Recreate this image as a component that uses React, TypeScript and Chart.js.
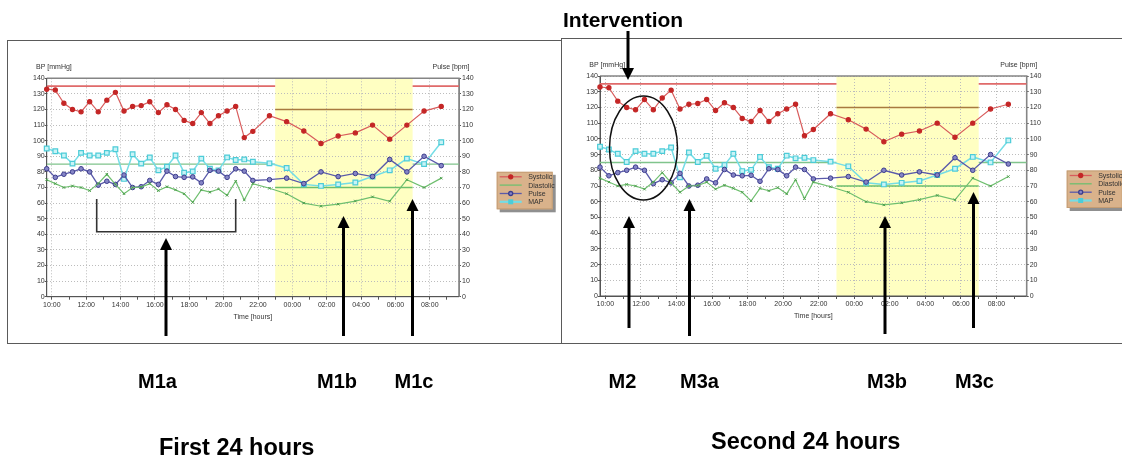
import React, { useEffect, useRef } from "react";
import { Chart, registerables } from "chart.js";

Chart.register(...registerables);

// ---------- data ----------
const readingTimes = [
  "09:42", "10:12", "10:42", "11:12", "11:42", "12:12", "12:42", "13:12", "13:42",
  "14:12", "14:42", "15:12", "15:42", "16:12", "16:42", "17:12", "17:42", "18:12",
  "18:42", "19:12", "19:42", "20:12", "20:42", "21:12", "21:42", "22:40", "23:40",
  "00:40", "01:40", "02:40", "03:40", "04:40", "05:40", "06:40", "07:40", "08:40",
];
const systolic = [
  133, 132.5, 124, 120, 118.5, 125, 118.5, 126, 131, 119, 122, 122.5, 125, 118, 123,
  120, 113, 111, 118, 111, 116, 119, 122, 102, 106, 116, 112.2, 106.2, 98.2, 103, 105,
  110, 101, 110, 119, 122,
];
const diastolic = [
  75, 72.5, 70, 71, 70, 68, 72.5, 78.5, 72, 66, 70, 70.3, 72.5, 68, 70.5, 68.5, 66,
  60.5, 68.5, 67, 69, 65, 74, 62, 72.5, 69.5, 66, 60, 58, 59.3, 61.3, 64, 61.2, 75,
  70, 76,
];
const pulse = [
  82, 76.5, 78.5, 80, 82, 80, 71.5, 74, 72, 78, 70, 70.5, 74.5, 72, 80.5, 77, 76.5,
  76.8, 73, 81, 80.5, 76.5, 82, 80.5, 74.5, 75, 76, 72.5, 80, 77, 79, 77, 88, 80, 90,
  84,
];
const meanArterial = [
  95, 93.2, 90.5, 85.3, 92.2, 90.5, 90.5, 92.2, 94.5, 75.5, 91.3, 85.3, 89.2, 81,
  83.3, 90.5, 79.5, 80.3, 88.5, 82, 81, 89.3, 87.6, 88, 86.5, 85.5, 82.5, 72, 71, 72,
  73.2, 77, 81, 88.5, 85, 99,
];
const seriesLabels = ["Systolic", "Diastolic", "Pulse", "MAP"];
const hourTicks = [10, 11, 12, 13, 14, 15, 16, 17, 18, 19, 20, 21, 22, 23, 24, 25, 26, 27, 28, 29, 30, 31, 32, 33];
const bpTicks = [0, 10, 20, 30, 40, 50, 60, 70, 80, 90, 100, 110, 120, 130, 140];
const axisStartHour = 9.7;
const axisEndHour = 33.7;
const nightStartHour = 23;
const nightEndHour = 31;
const systolicLimits = [135, 120]; // day, night
const diastolicLimits = [85, 70]; // day, night
const axisTitles = ["BP [mmHg]", "Pulse [bpm]", "Time [hours]"];

// ---------- styles ----------
const SMALL_FONT_FAMILY = "'Liberation Sans Narrow','Liberation Sans',Arial,sans-serif";
const SMALL_FONT = { family: SMALL_FONT_FAMILY, size: 7 };
const TEXT_COLOR = "#333333";
const GRID_COLOR = "#bcbcbc";
const AXIS_COLOR = "#555555";
const COLORS = {
  sysLine: "#d85c5c",
  sysPoint: "#c42626",
  diaLine: "#6fbf6f",
  diaPoint: "#4d9e4d",
  pulseLine: "#5a5aaa",
  pulsePoint: "#3c3c8c",
  pulseFill: "#8585c6",
  mapLine: "#74dde6",
  mapPoint: "#4cccd8",
  mapFill: "#c8f3f6",
  sysDayLimit: "#e06a6a",
  sysNightLimit: "#a8793f",
  diaDayLimit: "#80c48c",
  diaNightLimit: "#6cbf6c",
  night: "#ffffc2",
  legendBg: "#d9b28b",
  legendShadow: "#8f8f8f",
};

type Geo = {
  left: number;
  top: number;
  width: number;
  height: number;
  padTop: number;
  padRight: number;
  padBottom: number;
  leftAxisW: number;
  rightAxisW: number;
  legendDx: number;
  legendDy: number;
};

const leftGeo: Geo = {
  left: 8, top: 41, width: 552, height: 301,
  padTop: 37.3, padRight: 83, padBottom: 33.3, leftAxisW: 38.7, rightAxisW: 18,
  legendDx: 37.7, legendDy: 93.5,
};
const rightGeo: Geo = {
  left: 562, top: 39, width: 560, height: 304,
  padTop: 37, padRight: 77.3, padBottom: 35, leftAxisW: 38, rightAxisW: 18,
  legendDx: 40, legendDy: 94.5,
};

const toHour = (s: string) => {
  const [h, m] = s.split(":").map(Number);
  const v = h + m / 60;
  return v < 9 ? v + 24 : v;
};

function BPPanel({ geo }: { geo: Geo }) {
  const ref = useRef<HTMLCanvasElement>(null);

  useEffect(() => {
    const canvas = ref.current;
    if (!canvas) return;
    const hours = readingTimes.map(toHour);
    const pts = (vals: number[]) => vals.map((y, i) => ({ x: hours[i], y }));
    const dayLine = (v: number) => [
      { x: axisStartHour, y: v },
      { x: nightStartHour, y: v },
      { x: (nightStartHour + nightEndHour) / 2, y: null },
      { x: nightEndHour, y: v },
      { x: axisEndHour, y: v },
    ];
    const nightLine = (v: number) => [
      { x: nightStartHour, y: v },
      { x: nightEndHour, y: v },
    ];

    const legendRows = [
      { label: seriesLabels[0], line: COLORS.sysLine, point: COLORS.sysPoint, fill: COLORS.sysPoint, shape: "circle" },
      { label: seriesLabels[1], line: COLORS.diaLine, point: COLORS.diaPoint, fill: COLORS.diaPoint, shape: "none" },
      { label: seriesLabels[2], line: COLORS.pulseLine, point: COLORS.pulsePoint, fill: COLORS.pulseFill, shape: "circle" },
      { label: seriesLabels[3], line: COLORS.mapLine, point: COLORS.mapPoint, fill: COLORS.mapFill, shape: "rect" },
    ];
    const rowOffsets = [5, 13.3, 21.7, 30];

    const decor = {
      id: "decor",
      beforeDraw(chart: any) {
        const { ctx, chartArea: a, scales } = chart;
        const xs = scales.x;
        const x1 = xs.getPixelForValue(nightStartHour);
        const x2 = xs.getPixelForValue(nightEndHour);
        ctx.save();
        ctx.fillStyle = COLORS.night;
        ctx.fillRect(x1, a.top, x2 - x1, a.bottom - a.top);
        ctx.restore();
      },
      beforeDatasetsDraw(chart: any) {
        const { ctx, chartArea: a } = chart;
        ctx.save();
        ctx.strokeStyle = "#858585";
        ctx.lineWidth = 1.6;
        ctx.beginPath();
        ctx.moveTo(a.left, a.top);
        ctx.lineTo(a.right, a.top);
        ctx.lineTo(a.right, a.bottom);
        ctx.stroke();
        ctx.strokeStyle = AXIS_COLOR;
        ctx.lineWidth = 1;
        ctx.beginPath();
        ctx.moveTo(a.left, a.top);
        ctx.lineTo(a.left, a.bottom);
        ctx.lineTo(a.right, a.bottom);
        ctx.stroke();
        ctx.restore();
      },
      afterDraw(chart: any) {
        const { ctx, chartArea: a } = chart;
        ctx.save();
        ctx.font = `7px ${SMALL_FONT_FAMILY}`;
        ctx.fillStyle = TEXT_COLOR;
        ctx.textBaseline = "middle";
        ctx.textAlign = "left";
        ctx.fillText(axisTitles[0], a.left - 10.7, a.top - 11);
        ctx.textAlign = "right";
        ctx.fillText(axisTitles[1], a.right + 10.5, a.top - 11);
        ctx.textAlign = "center";
        ctx.fillText(axisTitles[2], (a.left + a.right) / 2, a.bottom + 20.5);

        // legend
        const lx = a.right + geo.legendDx;
        const ly = a.top + geo.legendDy;
        const lw = 56;
        const lh = 37.5;
        ctx.fillStyle = COLORS.legendShadow;
        ctx.fillRect(lx + 3, ly + 3, lw, lh);
        ctx.fillStyle = COLORS.legendBg;
        ctx.fillRect(lx, ly, lw, lh);
        ctx.strokeStyle = "#c49d74";
        ctx.lineWidth = 1;
        ctx.strokeRect(lx + 0.5, ly + 0.5, lw - 1, lh - 1);
        legendRows.forEach((r, i) => {
          const yy = ly + rowOffsets[i];
          ctx.strokeStyle = r.line;
          ctx.lineWidth = r.shape === "rect" ? 2.2 : 1.3;
          ctx.beginPath();
          ctx.moveTo(lx + 3, yy);
          ctx.lineTo(lx + 25, yy);
          ctx.stroke();
          if (r.shape === "circle") {
            ctx.fillStyle = r.fill;
            ctx.strokeStyle = r.point;
            ctx.beginPath();
            ctx.arc(lx + 14, yy, 2, 0, Math.PI * 2);
            ctx.fill();
            ctx.stroke();
          } else if (r.shape === "rect") {
            ctx.fillStyle = r.point;
            ctx.fillRect(lx + 11.5, yy - 2.5, 5, 5);
          }
          ctx.fillStyle = TEXT_COLOR;
          ctx.textAlign = "left";
          ctx.textBaseline = "middle";
          ctx.fillText(r.label, lx + 31.5, yy + 0.5);
        });
        ctx.restore();
      },
    };

    const chart = new Chart(canvas, {
      type: "line",
      data: {
        datasets: [
          {
            label: seriesLabels[0],
            data: pts(systolic),
            yAxisID: "y",
            borderColor: COLORS.sysLine,
            backgroundColor: COLORS.sysPoint,
            pointBackgroundColor: COLORS.sysPoint,
            pointBorderColor: COLORS.sysPoint,
            pointRadius: 2.1,
            borderWidth: 1.2,
            clip: false,
          },
          {
            label: seriesLabels[1],
            data: pts(diastolic),
            yAxisID: "y",
            borderColor: COLORS.diaLine,
            backgroundColor: COLORS.diaPoint,
            pointBackgroundColor: COLORS.diaPoint,
            pointBorderColor: COLORS.diaPoint,
            pointStyle: "crossRot",
            pointRadius: 1.8,
            pointBorderWidth: 1,
            borderWidth: 1.2,
            clip: false,
          },
          {
            label: seriesLabels[2],
            data: pts(pulse),
            yAxisID: "y2",
            borderColor: COLORS.pulseLine,
            backgroundColor: COLORS.pulseFill,
            pointBackgroundColor: COLORS.pulseFill,
            pointBorderColor: COLORS.pulsePoint,
            pointRadius: 2.3,
            pointBorderWidth: 1,
            borderWidth: 1.3,
            clip: false,
          },
          {
            label: seriesLabels[3],
            data: pts(meanArterial),
            yAxisID: "y",
            borderColor: COLORS.mapLine,
            backgroundColor: COLORS.mapFill,
            pointBackgroundColor: COLORS.mapFill,
            pointBorderColor: COLORS.mapPoint,
            pointStyle: "rect",
            pointRadius: 3.3,
            pointBorderWidth: 1.2,
            borderWidth: 1.5,
            clip: false,
          },
          {
            label: "sysDay",
            data: dayLine(systolicLimits[0]),
            yAxisID: "y",
            borderColor: COLORS.sysDayLimit,
            borderWidth: 1.8,
            pointRadius: 0,
            spanGaps: false,
          },
          {
            label: "sysNight",
            data: nightLine(systolicLimits[1]),
            yAxisID: "y",
            borderColor: COLORS.sysNightLimit,
            borderWidth: 1.6,
            pointRadius: 0,
          },
          {
            label: "diaDay",
            data: dayLine(diastolicLimits[0]),
            yAxisID: "y",
            borderColor: COLORS.diaDayLimit,
            borderWidth: 1.4,
            pointRadius: 0,
            spanGaps: false,
          },
          {
            label: "diaNight",
            data: nightLine(diastolicLimits[1]),
            yAxisID: "y",
            borderColor: COLORS.diaNightLimit,
            borderWidth: 1.4,
            pointRadius: 0,
          },
        ],
      } as any,
      options: {
        animation: false,
        responsive: false,
        maintainAspectRatio: false,
        events: [],
        layout: {
          padding: { left: 0, top: geo.padTop, right: geo.padRight, bottom: geo.padBottom },
        },
        elements: { line: { tension: 0 } },
        plugins: {
          legend: { display: false },
          tooltip: { enabled: false },
          title: { display: false },
        },
        scales: {
          x: {
            type: "linear",
            min: axisStartHour,
            max: axisEndHour,
            afterBuildTicks: (s: any) => {
              s.ticks = hourTicks.map((v) => ({ value: v }));
            },
            afterFit: (s: any) => {
              s.height = 12;
            },
            ticks: {
              autoSkip: false,
              maxRotation: 0,
              padding: 1,
              font: SMALL_FONT,
              color: TEXT_COLOR,
              callback: (value: any) => {
                const v = Number(value);
                if (v % 2 !== 0) return "";
                return String(v % 24).padStart(2, "0") + ":00";
              },
            },
            grid: {
              color: (c: any) => (c.tick && c.tick.value % 2 === 0 ? GRID_COLOR : "rgba(0,0,0,0)"),
              tickColor: AXIS_COLOR,
              tickLength: 3,
              lineWidth: 1,
            },
            border: { display: true, color: AXIS_COLOR, dash: [1, 2] },
          },
          y: {
            type: "linear",
            position: "left",
            min: 0,
            max: 140,
            afterBuildTicks: (s: any) => {
              s.ticks = bpTicks.map((v) => ({ value: v }));
            },
            afterFit: (s: any) => {
              s.width = geo.leftAxisW;
            },
            ticks: { font: SMALL_FONT, color: TEXT_COLOR, padding: 0 },
            grid: { color: GRID_COLOR, tickColor: AXIS_COLOR, tickLength: 2, lineWidth: 1 },
            border: { display: true, color: AXIS_COLOR, dash: [1, 2] },
          },
          y2: {
            type: "linear",
            position: "right",
            min: 0,
            max: 140,
            afterBuildTicks: (s: any) => {
              s.ticks = bpTicks.map((v) => ({ value: v }));
            },
            afterFit: (s: any) => {
              s.width = geo.rightAxisW;
            },
            ticks: { font: SMALL_FONT, color: TEXT_COLOR, padding: 1 },
            grid: { drawOnChartArea: false, tickColor: AXIS_COLOR, tickLength: 2 },
            border: { display: true, color: "#858585" },
          },
        },
      } as any,
      plugins: [decor],
    });
    return () => chart.destroy();
  }, [geo]);

  return (
    <canvas
      ref={ref}
      width={geo.width}
      height={geo.height}
      style={{ position: "absolute", left: geo.left, top: geo.top, width: geo.width, height: geo.height }}
    />
  );
}

function UpArrow({ x, bottom, tip }: { x: number; bottom: number; tip: number }) {
  return (
    <g>
      <line x1={x} y1={bottom} x2={x} y2={tip + 9} stroke="#000" strokeWidth={3} />
      <polygon points={`${x},${tip} ${x - 6},${tip + 12} ${x + 6},${tip + 12}`} fill="#000" />
    </g>
  );
}

function DownArrow({ x, top, tip }: { x: number; top: number; tip: number }) {
  return (
    <g>
      <line x1={x} y1={top} x2={x} y2={tip - 9} stroke="#000" strokeWidth={3} />
      <polygon points={`${x},${tip} ${x - 6},${tip - 12} ${x + 6},${tip - 12}`} fill="#000" />
    </g>
  );
}

const BOLD = "'Liberation Sans',Arial,Helvetica,sans-serif";

export default function App() {
  return (
    <div
      style={{
        position: "absolute",
        left: 0,
        top: 0,
        width: 1122,
        height: 461,
        background: "#ffffff",
        overflow: "hidden",
      }}
    >
      <div
        style={{
          position: "absolute",
          left: 7,
          top: 40,
          width: 555,
          height: 304,
          border: "1.5px solid #5a5a5a",
          boxSizing: "border-box",
        }}
      />
      <div
        style={{
          position: "absolute",
          left: 561,
          top: 38,
          width: 600,
          height: 306,
          border: "1.5px solid #5a5a5a",
          boxSizing: "border-box",
        }}
      />
      <BPPanel geo={leftGeo} />
      <BPPanel geo={rightGeo} />
      <svg
        width={1122}
        height={461}
        style={{ position: "absolute", left: 0, top: 0, pointerEvents: "none" }}
      >
        <path d="M96.7 199 V231.7 H235.7 V199" fill="none" stroke="#333" strokeWidth={1.6} />
        <ellipse cx={643.5} cy={148} rx={34} ry={52} fill="none" stroke="#111" strokeWidth={1.5} />
        <UpArrow x={166} bottom={336} tip={238} />
        <UpArrow x={343.5} bottom={336} tip={216} />
        <UpArrow x={412.5} bottom={336} tip={199} />
        <UpArrow x={629} bottom={328} tip={216} />
        <UpArrow x={689.5} bottom={336} tip={199} />
        <UpArrow x={885} bottom={334} tip={216} />
        <UpArrow x={973.5} bottom={328} tip={192} />
        <DownArrow x={628} top={31} tip={80} />
        <g fontFamily={BOLD} fontWeight="bold" fill="#000">
          <text x={563} y={26.7} fontSize={21}>Intervention</text>
          <text x={138} y={387.7} fontSize={20}>M1a</text>
          <text x={317} y={387.7} fontSize={20}>M1b</text>
          <text x={394.5} y={387.7} fontSize={20}>M1c</text>
          <text x={608.5} y={387.7} fontSize={20}>M2</text>
          <text x={680} y={387.7} fontSize={20}>M3a</text>
          <text x={867} y={387.7} fontSize={20}>M3b</text>
          <text x={955} y={387.7} fontSize={20}>M3c</text>
          <text x={159} y={455} fontSize={23.5}>First 24 hours</text>
          <text x={711} y={449} fontSize={23.5}>Second 24 hours</text>
        </g>
      </svg>
    </div>
  );
}
